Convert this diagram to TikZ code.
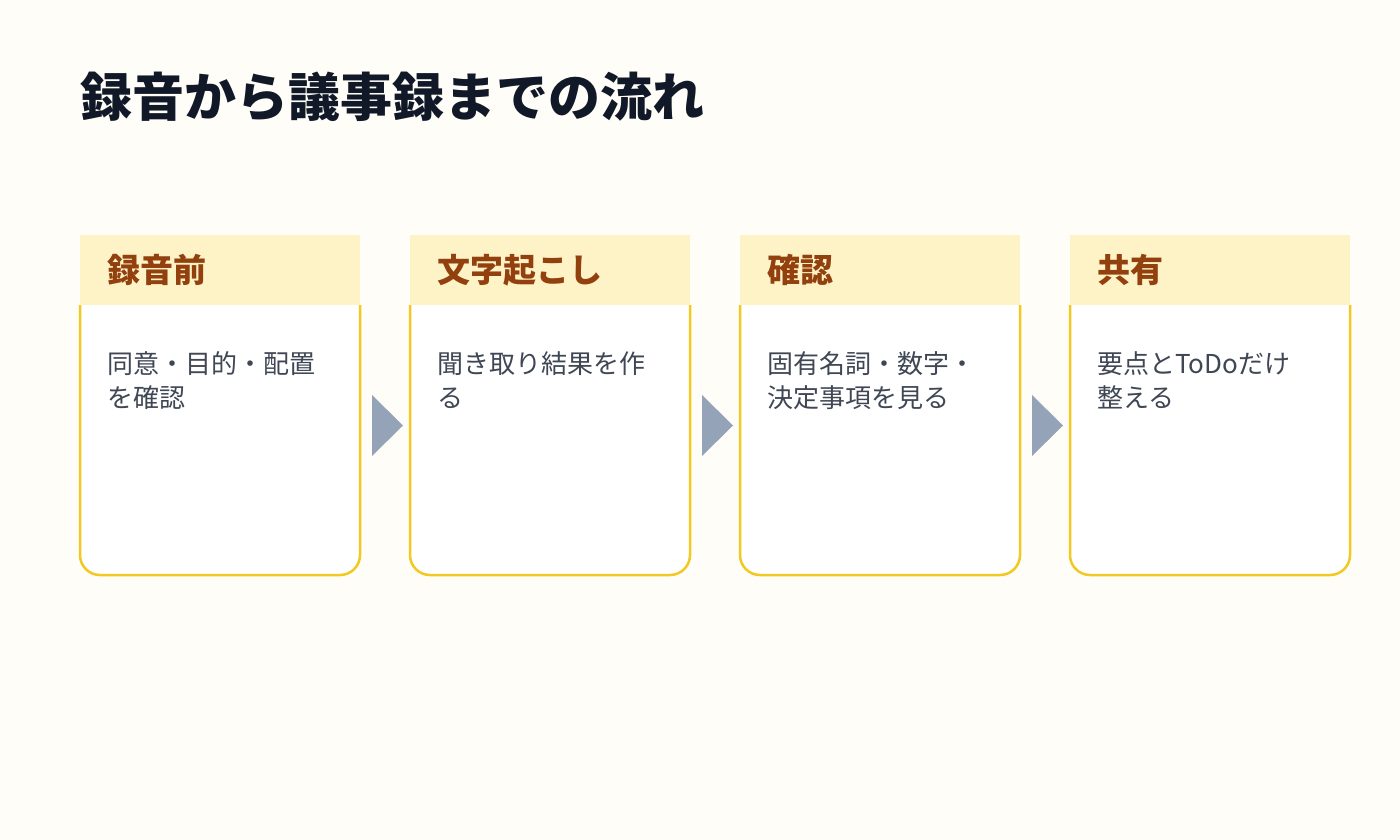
\documentclass[tikz,border=0pt]{standalone}
\usepackage{fontspec}
\setmainfont{Noto Sans CJK JP}
\usetikzlibrary{calc}
\definecolor{pagebg}{HTML}{FFFDF7}
\definecolor{titleink}{HTML}{111827}
\definecolor{headfill}{HTML}{FEF3C7}
\definecolor{headink}{HTML}{92400E}
\definecolor{cardline}{HTML}{F2C922}
\definecolor{bodyink}{HTML}{3F4654}
\definecolor{arrowgray}{HTML}{94A3B8}
\tikzset{
  headtext/.style={anchor=west,inner sep=0pt,text=headink,font=\fontsize{33}{38}\selectfont\bfseries},
  bodytext/.style={anchor=north west,inner sep=0pt,align=left,text=bodyink,font=\fontsize{26}{34}\selectfont},
  cardedge/.style={draw=cardline,line width=2.5pt,rounded corners=20pt,fill=white},
}
\begin{document}
\begin{tikzpicture}[x=1pt,y=-1pt]
  \useasboundingbox[fill=pagebg] (0,0) rectangle (1400,840);
  \node[anchor=base west,inner sep=0pt,text=titleink,font=\fontsize{52}{58}\selectfont\bfseries] (title) at (80,117) {録音から議事録までの流れ};
  \foreach \i/\head/\body in {0/録音前/{同意・目的・配置\\を確認},
                              1/文字起こし/{聞き取り結果を作\\る},
                              2/確認/{固有名詞・数字・\\決定事項を見る},
                              3/共有/{要点とToDoだけ\\整える}} {
      \pgfmathsetmacro\x{80+330*\i}
      % card body with rounded bottom
      \draw[cardedge] (\x,305) -- (\x,575) -- (\x+280,575) -- (\x+280,305);
      \fill[headfill] (\x,235) rectangle (\x+280,305);
      \node[headtext] (head\i) at (\x+27,270) {\head};
      \node[bodytext] (body\i) at (\x+27,351) {\body};
  }
  \foreach \i in {0,1,2} {
      \pgfmathsetmacro\x{372+330*\i}
      \fill[arrowgray] (\x,395) -- (\x+31,425.5) -- (\x,456) -- cycle;
  }
\end{tikzpicture}
\end{document}
